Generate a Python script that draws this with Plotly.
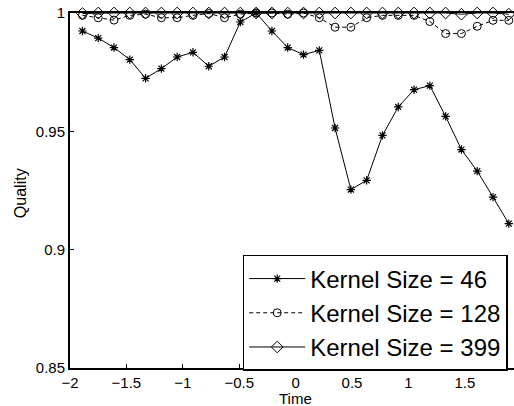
import plotly.graph_objects as go

time = [-1.89, -1.75, -1.61, -1.47, -1.33, -1.19, -1.05, -0.91, -0.77, -0.63,
        -0.49, -0.35, -0.21, -0.07, 0.07, 0.21, 0.35, 0.49, 0.63, 0.77,
        0.91, 1.05, 1.19, 1.33, 1.47, 1.61, 1.75, 1.89]

k46 = [0.9924, 0.9894, 0.9854, 0.9803, 0.9724, 0.9765, 0.9814, 0.9834, 0.9775, 0.9814,
       0.9962, 1.0000, 0.9924, 0.9854, 0.9824, 0.9842, 0.9514, 0.9254, 0.9293, 0.9483,
       0.9603, 0.9676, 0.9693, 0.9563, 0.9423, 0.9332, 0.9222, 0.9110]

k128 = [0.9990, 0.9980, 0.9970, 0.9990, 0.9995, 0.9980, 0.9980, 0.9990, 0.9998, 0.9980,
        0.9995, 1.0000, 1.0000, 0.9995, 1.0000, 0.9980, 0.9940, 0.9940, 0.9980, 0.9990,
        0.9990, 0.9990, 0.9964, 0.9913, 0.9913, 0.9944, 0.9969, 0.9969]

k399 = [0.9998, 1.0000, 1.0000, 1.0000, 1.0000, 1.0000, 1.0000, 1.0000, 1.0000, 1.0000,
        1.0000, 1.0000, 1.0000, 1.0000, 1.0000, 1.0000, 1.0000, 1.0000, 1.0000, 1.0000,
        1.0000, 1.0000, 1.0000, 1.0000, 0.9995, 1.0000, 1.0000, 0.9995]

names = ["Kernel Size = 46", "Kernel Size = 128", "Kernel Size = 399"]

xticks = [-2, -1.5, -1, -0.5, 0, 0.5, 1, 1.5]
xticklabels = ["\u22122", "\u22121.5", "\u22121", "\u22120.5", "0", "0.5", "1", "1.5"]
yticks = [0.85, 0.9, 0.95, 1.0]
yticklabels = ["0.85", "0.9", "0.95", "1"]

x_title = "Time"
y_title = "Quality"

FONT = "Liberation Sans, Arial, Helvetica, sans-serif"

fig = go.Figure()
fig.add_trace(go.Scatter(
    x=time, y=k46, name=names[0], mode="lines+markers", cliponaxis=False,
    line=dict(color="black", width=1),
    marker=dict(symbol="asterisk-open", size=7, color="black",
                line=dict(color="black", width=1.2))))
fig.add_trace(go.Scatter(
    x=time, y=k128, name=names[1], mode="lines+markers", cliponaxis=False,
    line=dict(color="black", width=1, dash="4px,3px"),
    marker=dict(symbol="circle-open", size=8, color="black",
                line=dict(color="black", width=1))))
fig.add_trace(go.Scatter(
    x=time, y=k399, name=names[2], mode="lines+markers", cliponaxis=False,
    line=dict(color="black", width=1),
    marker=dict(symbol="diamond-open", size=9, color="black",
                line=dict(color="black", width=1))))

fig.update_layout(
    width=514, height=406,
    margin=dict(l=70, r=0, t=13, b=38, autoexpand=False),
    paper_bgcolor="white", plot_bgcolor="white",
    font=dict(family=FONT, color="black", size=15),
    showlegend=True,
    legend=dict(
        x=0.389, y=0.155, xanchor="left", yanchor="middle",
        bgcolor="white", bordercolor="black", borderwidth=1.5,
        font=dict(family=FONT, size=24, color="black"),
        itemwidth=56, tracegroupgap=0,
    ),
    xaxis=dict(
        range=[-2, 1.936], tickvals=xticks, ticktext=xticklabels,
        ticks="inside", ticklen=4, tickwidth=1, tickcolor="black",
        showline=True, linecolor="black", linewidth=2, mirror=True,
        showgrid=False, zeroline=False, automargin=False,
        tickfont=dict(size=15),
    ),
    yaxis=dict(
        range=[0.85, 1.0], tickvals=yticks, ticktext=yticklabels,
        ticks="inside", ticklen=4, tickwidth=1, tickcolor="black",
        showline=True, linecolor="black", linewidth=2, mirror=False,
        showgrid=False, zeroline=False, automargin=False,
        tickfont=dict(size=15),
    ),
    annotations=[
        dict(text=x_title, xref="paper", yref="paper", x=0.507, y=-0.085,
             xanchor="center", yanchor="middle", showarrow=False,
             font=dict(family=FONT, size=15, color="black")),
        dict(text=y_title, xref="paper", yref="paper", x=-0.11, y=0.493,
             xanchor="center", yanchor="middle", showarrow=False, textangle=-90,
             font=dict(family=FONT, size=16, color="black")),
    ],
)

fig.write_html(
    "out.html",
    config={"displayModeBar": False},
    post_script="document.body.style.margin='0';document.body.style.padding='0';"
                "document.body.style.overflow='hidden';",
)
